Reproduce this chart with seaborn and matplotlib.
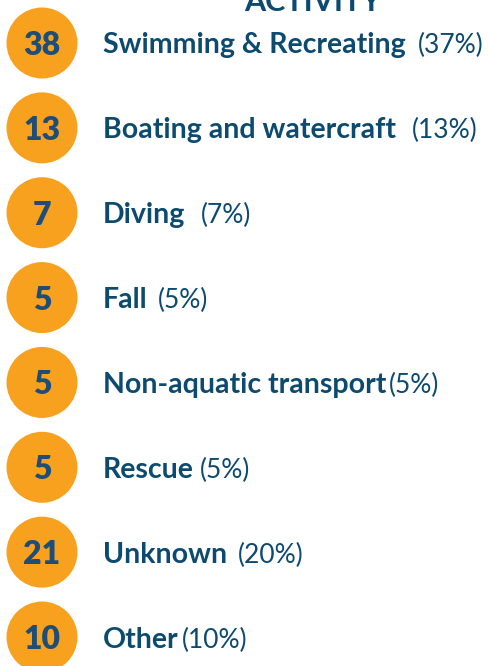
import matplotlib
matplotlib.use("Agg")
import matplotlib.pyplot as plt
import seaborn as sns
import pandas as pd

# ---- data ----
categories = ["Swimming & Recreating", "Boating and watercraft", "Diving", "Fall",
              "Non-aquatic transport", "Rescue", "Unknown", "Other"]
counts = [38, 13, 7, 5, 5, 5, 21, 10]
percents = ["(37%)", "(13%)", "(7%)", "(5%)", "(5%)", "(5%)", "(20%)", "(10%)"]
title = "ACTIVITY"

# style
pct_gap_px = [12, 16, 15, 10, 3, 6, 11, 3]
ORANGE = "#F7A11F"
NAVY = "#0C4A70"
NUMNAVY = "#1E4E78"

df = pd.DataFrame({"category": categories, "count": counts, "pct": percents,
                   "row": range(len(categories)), "x": [42] * len(categories)})

sns.set_theme(style="white")
plt.rcParams["font.family"] = ["Lato", "DejaVu Sans"]

fig = plt.figure(figsize=(4.9, 6.66), dpi=100)
ax = fig.add_axes([0, 0, 1, 1])
ax.set_xlim(0, 490)
spacing = 84.86
ax.set_ylim((666 - 43) / spacing, -43 / spacing)
ax.axis("off")

r_pt = 35.5 * 72 / 100
sns.scatterplot(data=df, x="x", y="row", s=(2 * r_pt) ** 2, color=ORANGE,
                edgecolor="none", linewidth=0, legend=False, ax=ax)

for _, rw in df.iterrows():
    ax.text(rw["x"], rw["row"], str(rw["count"]), ha="center", va="center_baseline",
            fontsize=23, fontweight="heavy", color=NUMNAVY)
    t = ax.text(103, rw["row"], rw["category"], ha="left", va="center_baseline",
                fontsize=20.5, fontweight="bold", color=NAVY)
    ax.annotate(rw["pct"], xy=(1, 0), xycoords=t,
                xytext=(pct_gap_px[rw["row"]] * 0.72, 0), textcoords="offset points",
                ha="left", va="bottom", fontsize=19, fontweight="normal", color=NAVY)

ax.text(313, -43 / spacing + 11 / spacing, title, ha="center", va="baseline",
        fontsize=22, fontweight="bold", color=NAVY)

fig.savefig("out.png", dpi=100)
